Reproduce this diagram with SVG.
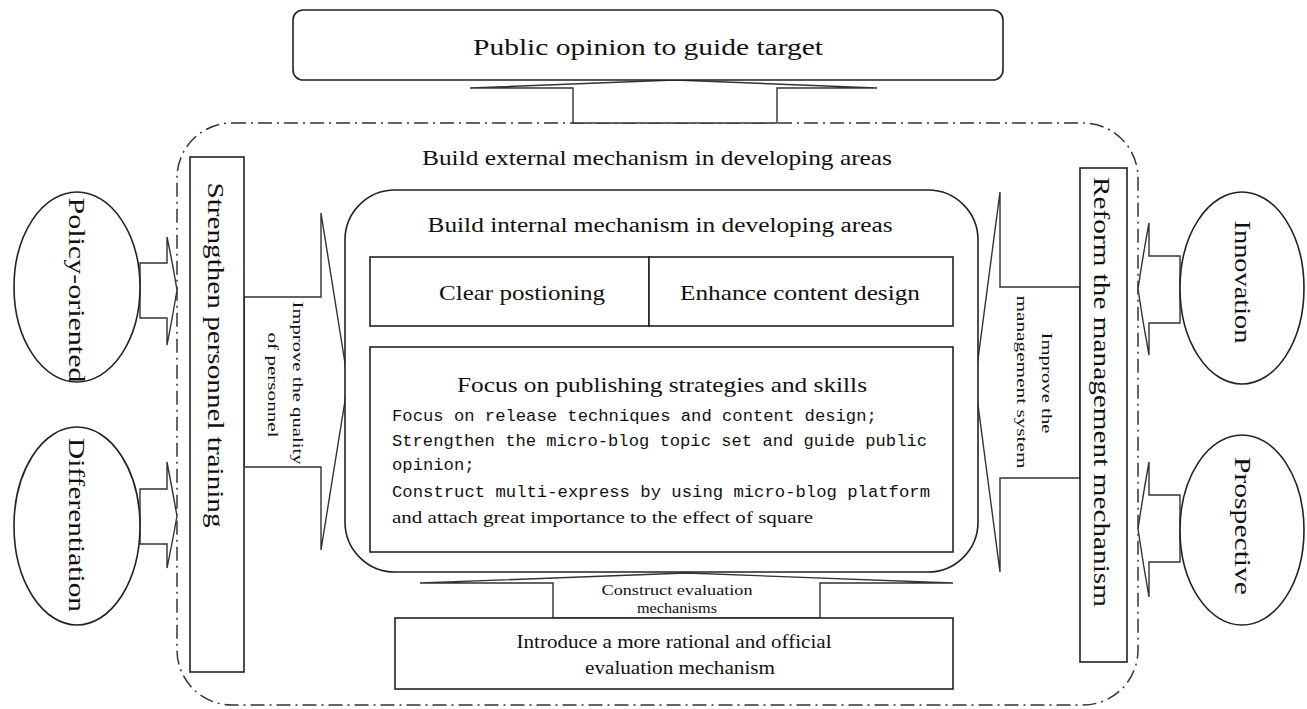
<svg xmlns="http://www.w3.org/2000/svg" width="1307" height="709" viewBox="0 0 1307 709">
<style>
.box{fill:#fff;stroke:#222;stroke-width:1.6}
.arr{fill:#fff;stroke:#333;stroke-width:1.4;stroke-linejoin:miter}
.dash{fill:none;stroke:#333;stroke-width:1.5;stroke-dasharray:14 5 2 5}
.t{font-family:"Liberation Serif","Times New Roman",serif;fill:#111}
.m{font-family:"Liberation Mono","Courier New",monospace;fill:#111;font-size:17.2px}
.c{text-anchor:middle}
</style>
<rect width="1307" height="709" fill="#fff"/>
<g id="external">
<rect class="dash" x="177" y="123" width="961" height="582" rx="55" ry="55"/>
<text class="t c" x="657" y="165" font-size="21" textLength="470" lengthAdjust="spacingAndGlyphs">Build external mechanism in developing areas</text>
</g>
<g id="connectors">
<path class="arr" d="M573,123 V88 H470 L675,80 L877,88 H777 V123 Z"/>
<path class="arr" d="M244,297 H321 V213 L348,382 L321,550 V467 H244 Z"/>
<path class="arr" d="M1080,287 H1000 V192 L975,382 L1000,572 V478 H1080 Z"/>
<path class="arr" d="M553,618 V583 H420 L686,573 L953,583 H820 V618 Z"/>
<path class="arr" d="M140,263 H167 V237 Q172,260 177,290 Q172,320 167,345 V318 H140 Z"/>
<path class="arr" d="M140,489 H167 V462 Q172,488 177,516 Q172,544 167,568 V544 H140 Z"/>
<path class="arr" d="M1180,256 H1149 V223 Q1143,255 1138,289 Q1143,323 1149,355 V323 H1180 Z"/>
<path class="arr" d="M1180,495 H1149 V462 Q1143,495 1138,529 Q1143,563 1149,597 V562 H1180 Z"/>
<g transform="translate(298,383) rotate(90)"><text class="t c" x="0" y="5" font-size="14" textLength="163" lengthAdjust="spacingAndGlyphs">Improve the quality</text></g>
<g transform="translate(273,385) rotate(90)"><text class="t c" x="0" y="5" font-size="14" textLength="105" lengthAdjust="spacingAndGlyphs">of personnel</text></g>
<g transform="translate(1047,383) rotate(90)"><text class="t c" x="0" y="5" font-size="14" textLength="101" lengthAdjust="spacingAndGlyphs">Improve the</text></g>
<g transform="translate(1022,382) rotate(90)"><text class="t c" x="0" y="5" font-size="14" textLength="173" lengthAdjust="spacingAndGlyphs">management system</text></g>
<text class="t c" x="677" y="595" font-size="15" textLength="151" lengthAdjust="spacingAndGlyphs">Construct evaluation</text>
<text class="t c" x="677" y="613" font-size="15" textLength="80" lengthAdjust="spacingAndGlyphs">mechanisms</text>
</g>
<g id="target">
<rect class="box" x="293" y="10" width="710" height="70" rx="10" ry="10"/>
<text class="t c" x="648" y="55" font-size="24" textLength="350" lengthAdjust="spacingAndGlyphs">Public opinion to guide target</text>
</g>
<g id="internal">
<rect class="box" x="345" y="190" width="633" height="382" rx="50" ry="50"/>
<text class="t c" x="660" y="232" font-size="20" textLength="465" lengthAdjust="spacingAndGlyphs">Build internal mechanism in developing areas</text>
</g>
<g id="clear-positioning">
<rect class="box" x="370" y="257" width="279" height="69"/>
<text class="t c" x="522" y="300" font-size="21" textLength="166" lengthAdjust="spacingAndGlyphs">Clear postioning</text>
</g>
<g id="content-design">
<rect class="box" x="649" y="257" width="304" height="69"/>
<text class="t c" x="800" y="300" font-size="21" textLength="240" lengthAdjust="spacingAndGlyphs">Enhance content design</text>
</g>
<g id="strategies">
<rect class="box" x="370" y="347" width="583" height="205"/>
<text class="t c" x="662" y="392" font-size="21" textLength="410" lengthAdjust="spacingAndGlyphs">Focus on publishing strategies and skills</text>
<text class="m" x="392" y="421">Focus on release techniques and content design;</text>
<text class="m" x="392" y="446" textLength="535" lengthAdjust="spacingAndGlyphs">Strengthen the micro-blog topic set and guide public</text>
<text class="m" x="392" y="470">opinion;</text>
<text class="m" x="392" y="497" textLength="538" lengthAdjust="spacingAndGlyphs">Construct multi-express by using micro-blog platform</text>
<text class="t" x="392" y="523" font-size="17" textLength="421" lengthAdjust="spacingAndGlyphs">and attach great importance to the effect of square</text>
</g>
<g id="evaluation">
<rect class="box" x="395" y="618" width="558" height="71"/>
<text class="t c" x="674" y="648" font-size="19" textLength="315" lengthAdjust="spacingAndGlyphs">Introduce a more rational and official</text>
<text class="t c" x="680" y="674" font-size="19" textLength="190" lengthAdjust="spacingAndGlyphs">evaluation mechanism</text>
</g>
<g id="training">
<rect class="box" x="190" y="157" width="54" height="515"/>
<g transform="translate(216,355) rotate(90)"><text class="t c" x="0" y="8" font-size="24" textLength="345" lengthAdjust="spacingAndGlyphs">Strengthen personnel training</text></g>
</g>
<g id="management">
<rect class="box" x="1080" y="168" width="47" height="494"/>
<g transform="translate(1102,392) rotate(90)"><text class="t c" x="0" y="8" font-size="24" textLength="430" lengthAdjust="spacingAndGlyphs">Reform the management mechanism</text></g>
</g>
<g id="policy">
<ellipse class="box" cx="77" cy="287" rx="63" ry="95"/>
<g transform="translate(77,290) rotate(90)"><text class="t c" x="0" y="8" font-size="23" textLength="185" lengthAdjust="spacingAndGlyphs">Policy-oriented</text></g>
</g>
<g id="differentiation">
<ellipse class="box" cx="77" cy="526" rx="63" ry="99"/>
<g transform="translate(77,525) rotate(90)"><text class="t c" x="0" y="8" font-size="23" textLength="174" lengthAdjust="spacingAndGlyphs">Differentiation</text></g>
</g>
<g id="innovation">
<ellipse class="box" cx="1242" cy="288" rx="62" ry="96"/>
<g transform="translate(1243,282) rotate(90)"><text class="t c" x="0" y="8" font-size="23" textLength="123" lengthAdjust="spacingAndGlyphs">Innovation</text></g>
</g>
<g id="prospective">
<ellipse class="box" cx="1242" cy="530" rx="62" ry="95"/>
<g transform="translate(1243,526) rotate(90)"><text class="t c" x="0" y="8" font-size="23" textLength="138" lengthAdjust="spacingAndGlyphs">Prospective</text></g>
</g>
</svg>
